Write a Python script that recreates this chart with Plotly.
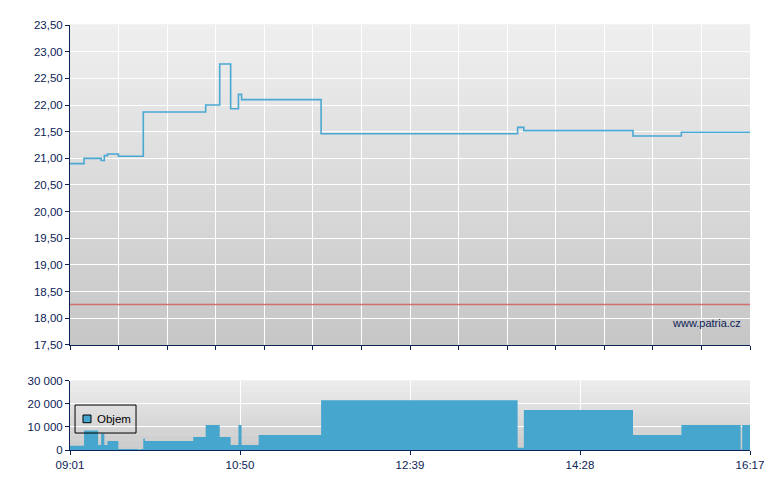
import plotly.graph_objects as go

# ---- data ----
times = ["09:01", "09:10", "09:19", "09:21", "09:23", "09:25", "09:32", "09:45", "09:46",
         "09:48", "09:49", "10:20", "10:28", "10:37", "10:44", "10:49", "10:51", "11:02",
         "11:42", "13:48", "13:52", "15:02", "15:33", "16:11", "16:12", "16:17"]
prices = [20.90, 21.00, 21.00, 20.96, 21.05, 21.08, 21.04, 21.04, 21.04,
          21.87, 21.87, 21.87, 22.00, 22.77, 21.93, 22.20, 22.10, 22.10,
          21.46, 21.58, 21.52, 21.42, 21.49, 21.49, 21.49, 21.49]
volumes = [1800, 8500, 2200, 7000, 2200, 3900, 400, 100, 400,
           5000, 3900, 5600, 10800, 5600, 2200, 10800, 2200, 6500,
           21600, 1000, 17300, 6500, 10800, 200, 10800, 10800]
prev_close = 18.26
x_tick_labels = ["09:01", "10:50", "12:39", "14:28", "16:17"]
watermark = "www.patria.cz"
legend_name = "Objem"

# ---- helpers ----
def to_min(t):
    h, m = map(int, t.split(":"))
    return h * 60 + m - (9 * 60 + 1)

xs = [to_min(t) for t in times]
tickvals = [to_min(t) for t in x_tick_labels]
x_end = tickvals[-1]

NAVY = "#0c2356"
BLUE = "#46a6ce"
FONT = "Liberation Sans"

fig = go.Figure()
fig.add_trace(go.Scatter(x=xs, y=prices, mode="lines",
                         line=dict(shape="hv", color="#4aa8d2", width=1.6),
                         xaxis="x", yaxis="y", showlegend=False, hoverinfo="skip"))
fig.add_trace(go.Scatter(x=xs, y=volumes, mode="lines", name=legend_name,
                         line=dict(shape="hv", color=BLUE, width=0),
                         fill="tozeroy", fillcolor=BLUE,
                         xaxis="x2", yaxis="y2", showlegend=False, hoverinfo="skip"))

# gradient backgrounds
shapes = []
N = 80
def grad(xref, yref, top=(239, 239, 239), bot=(198, 198, 198)):
    out = []
    for i in range(N):
        t = (i + 0.5) / N
        c = [round(bot[k] + (top[k] - bot[k]) * t) for k in range(3)]
        out.append(dict(type="rect", xref=xref, yref=yref, x0=0, x1=1,
                        y0=i / N, y1=(i + 1) / N + 0.002, layer="below",
                        line=dict(width=0), fillcolor="rgb(%d,%d,%d)" % tuple(c)))
    return out
shapes += grad("x domain", "y domain")
shapes += grad("x2 domain", "y2 domain", bot=(200, 200, 200))
shapes.append(dict(type="line", xref="x domain", yref="y", x0=0, x1=1,
                   y0=prev_close, y1=prev_close, layer="above",
                   line=dict(color="#d27070", width=1.5)))

# legend box (drawn as shapes so it matches the compact original legend)
shapes.append(dict(type="rect", xref="x2 domain", yref="y2 domain",
                   x0=0.0074, x1=0.0971, y0=0.245, y1=0.649, layer="above",
                   line=dict(color="black", width=1), fillcolor="rgba(0,0,0,0)"))
shapes.append(dict(type="rect", xref="x2 domain", yref="y2 domain",
                   x0=0.0191, x1=0.0309, y0=0.394, y1=0.505, layer="above",
                   line=dict(color="black", width=1), fillcolor=BLUE))

axis_common = dict(showline=True, linecolor=NAVY, linewidth=1, ticks="outside",
                   tickcolor=NAVY, ticklen=4, gridcolor="white", gridwidth=1,
                   zeroline=False, tickfont=dict(family=FONT, size=11.5, color=NAVY))

# the page body has an 8px offset, so margins are adjusted for it
fig.update_layout(
    width=780, height=490,
    margin=dict(l=62, r=38, t=17, b=48),
    paper_bgcolor="white", plot_bgcolor="#dddddd",
    separators=", ",
    shapes=shapes,
    showlegend=False,
    xaxis=dict(domain=[0, 1], range=[0, x_end], anchor="y", tick0=0, dtick=x_end / 14,
               showticklabels=False, **axis_common),
    yaxis=dict(domain=[0.2471, 1], range=[17.5, 23.5], dtick=0.5, tickformat=".2f",
               anchor="x", **axis_common),
    xaxis2=dict(domain=[0, 1], range=[0, x_end], anchor="y2", tickmode="array",
                tickvals=tickvals, ticktext=x_tick_labels, **axis_common),
    yaxis2=dict(domain=[0, 0.163], range=[0, 30000], dtick=10000, tickformat=",d",
                anchor="x2", **axis_common),
    annotations=[
        dict(text=watermark, xref="x domain", yref="y domain", x=0.99, y=0.069,
             xanchor="right", yanchor="middle", showarrow=False,
             font=dict(family=FONT, size=11, color=NAVY)),
        dict(text=legend_name, xref="x2 domain", yref="y2 domain", x=0.0368, y=0.447,
             xanchor="left", yanchor="middle", showarrow=False,
             font=dict(family=FONT, size=11.5, color="black")),
    ],
    hovermode=False,
)

fig.write_html("out.html")
